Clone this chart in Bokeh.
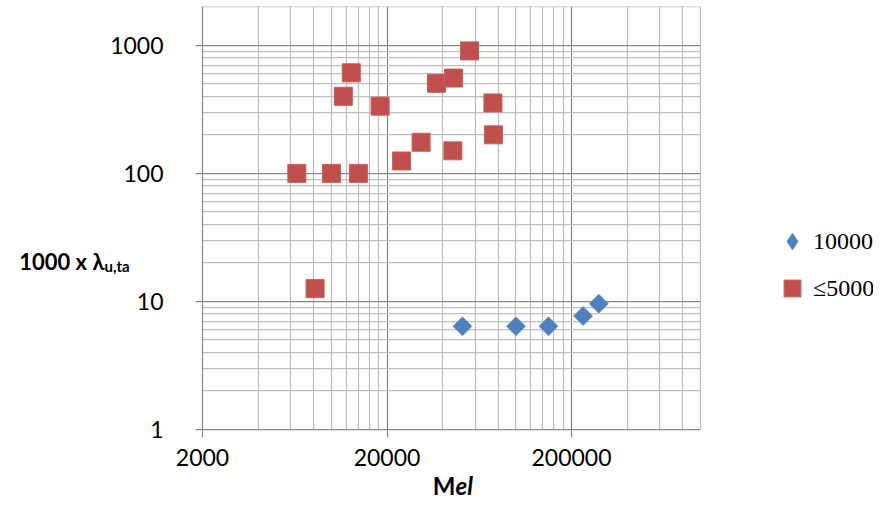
import math
from bokeh.plotting import figure
from bokeh.models import (Range1d, FixedTicker, NumeralTickFormatter, Label,
                          Legend, LegendItem, ColumnDataSource)
from bokeh.embed import file_html
from bokeh.resources import INLINE

# ---- data ----
series_names = ["10000", "\u22645000"]

mel_10000 = [51300, 100000, 150000, 231000, 281000]
lam_10000 = [6.4, 6.4, 6.4, 7.7, 9.6]

mel_5000 = [6490, 8150, 10000, 11600, 12800, 14000, 18350, 24000, 30600,
            37100, 45500, 45900, 56000, 75000, 75500]
lam_5000 = [100, 12.6, 100, 400, 610, 100, 335, 125, 175,
            505, 150, 555, 905, 355, 200]

x_major = [2000, 20000, 200000]
y_major = [1, 10, 100, 1000]

x_title_main, x_title_ital = "M", "el"
y_title_main, y_title_sub = "1000 x \u03bb", "u,ta"

# ---- styling / geometry ----
MAJOR = "#878787"
MINOR = "#BFBFBF"
BLUE = "#4F81BD"
RED = "#C0504D"
FONT = "Lato"

W, H = 873, 503
FL, FR, FT, FB = 202, 700, 6, 429            # plot-area edges (canvas px)
XMIN, XMAX, YMIN, YMAX = 2000, 1000000, 1, 2000

x_minor = [d * k for d in x_major for k in range(2, 10) if d * k <= XMAX]
y_minor = [d * k for d in y_major for k in range(2, 10) if d * k <= YMAX]

DEC_X = (FR - FL) / math.log10(XMAX / XMIN)  # px per decade
x_end = XMIN * 10 ** ((W - FL) / DEC_X)      # frame runs on to the right edge (legend area)
y_end = YMAX * 1.005
DEC_Y = (FB - FT) / math.log10(y_end / YMIN)
TXT_DY = 8                                    # baseline correction for labels


def xval(px):
    return XMIN * 10 ** ((px - FL) / DEC_X)


def yval(py):
    return YMIN * 10 ** ((FB - (py - TXT_DY)) / DEC_Y)


p = figure(width=W, height=H, x_axis_type="log", y_axis_type="log",
           x_range=Range1d(XMIN, x_end), y_range=Range1d(YMIN, y_end),
           output_backend="svg", toolbar_location=None,
           min_border_left=FL, min_border_right=0,
           min_border_top=FT, min_border_bottom=H - FB)

xt = FixedTicker(ticks=x_major, minor_ticks=x_minor)
yt = FixedTicker(ticks=y_major, minor_ticks=y_minor)
p.xaxis.ticker = xt
p.yaxis.ticker = yt
p.xgrid.ticker = xt
p.ygrid.ticker = yt
p.xaxis.formatter = NumeralTickFormatter(format="0")
p.yaxis.formatter = NumeralTickFormatter(format="0")
p.xaxis.bounds = (XMIN, XMAX)
p.xgrid.bounds = (XMIN, XMAX)
p.ygrid.cross_bounds = (XMIN, XMAX)

for g in (p.xgrid, p.ygrid):
    g.grid_line_color = MAJOR
    g.grid_line_width = 1.25
    g.minor_grid_line_color = MINOR
    g.minor_grid_line_width = 1.25

for ax in (p.xaxis, p.yaxis):
    ax.axis_line_color = MAJOR
    ax.axis_line_width = 1.25
    ax.major_tick_line_color = MAJOR
    ax.major_tick_line_width = 1.25
    ax.major_tick_in = 0
    ax.minor_tick_line_color = None
    ax.major_label_text_font = FONT
    ax.major_label_text_font_size = "23px"
    ax.major_label_text_color = "#000000"

p.xaxis.major_tick_out = 8
p.xaxis.major_label_standoff = 11
p.yaxis.major_tick_out = 7
p.yaxis.major_label_standoff = 32

p.outline_line_color = None
p.background_fill_color = "white"
p.border_fill_color = "white"

src1 = ColumnDataSource(dict(x=mel_10000, y=lam_10000))
src2 = ColumnDataSource(dict(x=mel_5000, y=lam_5000))

# diamond-shaped legend key for the first series (hidden under the rotated squares)
r1_key = p.scatter("x", "y", source=src1, marker="diamond", size=13,
                   fill_color=BLUE, line_color=BLUE, line_width=0.5)
r1 = p.scatter("x", "y", source=src1, marker="square", size=13.5,
               angle=math.pi / 4, fill_color=BLUE, line_color=BLUE, line_width=0.5)
r2 = p.scatter("x", "y", source=src2, marker="square", size=18,
               fill_color=RED, line_color="#C85E5B", line_width=1)

legend = Legend(items=[LegendItem(label=series_names[0], renderers=[r1_key]),
                       LegendItem(label=series_names[1], renderers=[r2])],
                location=(771 - FL, FB - 309), orientation="vertical",
                glyph_width=42, glyph_height=42, label_height=42,
                spacing=5, padding=0, margin=0, label_standoff=0,
                border_line_color=None, background_fill_alpha=0,
                label_text_font="Liberation Serif", label_text_font_size="24px",
                label_text_color="#000000")
p.add_layout(legend)

# axis titles with mixed styles; data-positioned labels kept in the side panels
common = dict(text_font=FONT, text_baseline="alphabetic", text_color="#000000")
p.add_layout(Label(x=xval(455), y=yval(493), text=x_title_main,
                   text_font_style="bold", text_font_size="24px",
                   text_align="right", **common), "left")
p.add_layout(Label(x=xval(455), y=yval(493), text=x_title_ital,
                   text_font_style="bold italic", text_font_size="24px",
                   text_align="left", **common), "left")
p.add_layout(Label(x=xval(104), y=yval(273), text=y_title_sub,
                   text_font_style="bold", text_font_size="15px",
                   text_align="left", **common), "left")
p.add_layout(Label(x=xval(104), y=yval(269), text=y_title_main,
                   text_font_style="bold", text_font_size="22px",
                   text_align="right", **common), "below")

open("out.html", "w").write(file_html(p, INLINE))
